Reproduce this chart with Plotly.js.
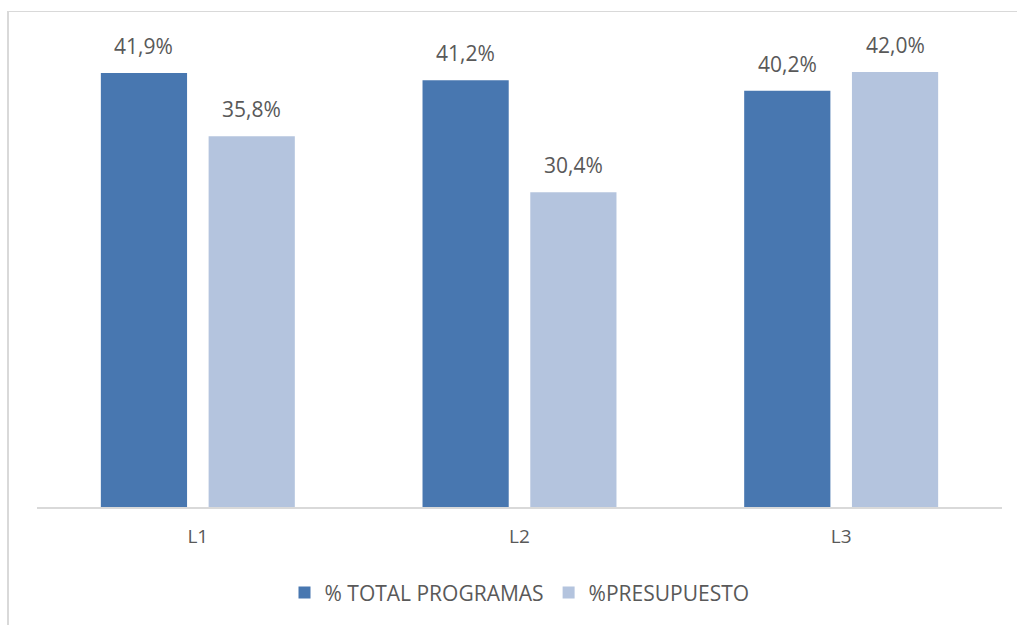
<!DOCTYPE html>
<html>
<head>
<meta charset="utf-8">
<script src="https://cdn.plot.ly/plotly-3.0.1.min.js"></script>
<style>
  html, body { margin: 0; padding: 0; background: #ffffff; }
  #wrap { position: relative; width: 1017px; height: 625px; }
  #chart { position: absolute; left: 0; top: 0; width: 1017px; height: 625px; }
  #frame { position: absolute; left: 7px; top: 11px; width: 1010px; height: 614px;
           border-left: 2px solid #d9d9d9; border-top: 1px solid #d9d9d9; pointer-events: none; }
</style>
</head>
<body>
<div id="wrap">
  <div id="chart"></div>
  <div id="frame"></div>
</div>
<script>
const categories = ["L1", "L2", "L3"];
const seriesNames = ["% TOTAL PROGRAMAS", "%PRESUPUESTO"];
const totalProgramas = [41.9, 41.2, 40.2];
const presupuesto = [35.8, 30.4, 42.0];
const seriesColors = ["#4877b0", "#b4c4de"];

const bargap = 0.33;
const fontFam = "'Open Sans', 'Liberation Sans', sans-serif";
const textColor = "#595959";

function fmt(v) { return v.toFixed(1).replace(".", ",") + "%"; }

const xs = categories.map((c, i) => i);

const traces = [totalProgramas, presupuesto].map((vals, k) => ({
  type: "bar",
  name: seriesNames[k],
  x: xs,
  y: vals,
  marker: { color: seriesColors[k] },
  hoverinfo: "none"
}));

const annotations = [];
[totalProgramas, presupuesto].forEach((vals, k) => {
  const off = (k === 0 ? -1 : 1) * (1 - bargap) / 4;
  vals.forEach((v, i) => {
    annotations.push({
      x: i + off, y: v, xref: "x", yref: "y",
      text: fmt(v), showarrow: false,
      yanchor: "bottom", yshift: 11,
      font: { family: fontFam, size: 21, color: textColor }
    });
  });
});

const layout = {
  width: 1017, height: 625,
  margin: { l: 37, r: 15, t: 41, b: 115.5 },
  paper_bgcolor: "#ffffff",
  plot_bgcolor: "#ffffff",
  barmode: "group",
  bargap: bargap,
  bargroupgap: 0.2,
  showlegend: true,
  legend: {
    orientation: "h", x: 0.5, xanchor: "center", y: -0.14, yanchor: "top",
    font: { family: fontFam, size: 21, color: textColor },
    itemwidth: 30, traceorder: "normal"
  },
  xaxis: {
    type: "linear",
    range: [-0.5, 2.5],
    tickvals: xs, ticktext: categories,
    showgrid: false, zeroline: false,
    showline: true, linecolor: "#d9d9d9", linewidth: 1.5,
    ticks: "", ticklen: 0, ticklabelstandoff: 12,
    tickfont: { family: fontFam, size: 19, color: textColor }
  },
  yaxis: {
    range: [0, 45],
    visible: false,
    showgrid: false, zeroline: false
  },
  annotations: annotations
};

Plotly.newPlot("chart", traces, layout, { displayModeBar: false, staticPlot: true });
</script>
</body>
</html>
